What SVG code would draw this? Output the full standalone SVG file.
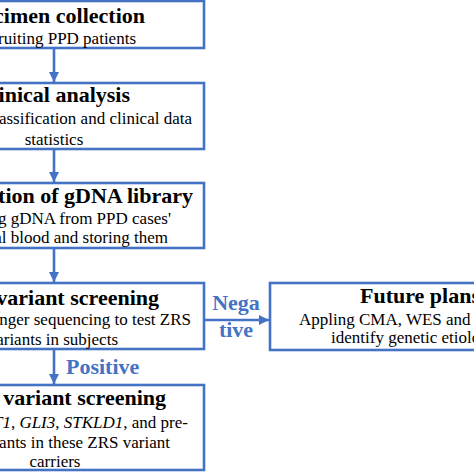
<svg xmlns="http://www.w3.org/2000/svg" width="474" height="474" viewBox="0 0 474 474">
<defs>
<style>
.box{fill:#fff;stroke:#4472C4;stroke-width:2.6}
.t{font-weight:bold;font-size:22px;fill:#000}
.b{font-size:17px;fill:#000}
.lbl{font-weight:bold;font-size:22px;fill:#4472C4}
.c{stroke:#4472C4;stroke-width:2.6;fill:none}
</style>
<marker id="ah" viewBox="0 0 10 10" refX="10" refY="5" markerWidth="4" markerHeight="4" markerUnits="strokeWidth" orient="auto">
<path d="M0,0 L10,5 L0,10 z" fill="#4472C4"/>
</marker>
</defs>
<rect width="474" height="474" fill="#fff"/>
<g font-family="Liberation Serif, Tinos, Times New Roman, serif">
<g id="connectors">
<line class="c" x1="54" y1="48" x2="54" y2="82" marker-end="url(#ah)"/>
<line class="c" x1="54" y1="149" x2="54" y2="182" marker-end="url(#ah)"/>
<line class="c" x1="54" y1="248" x2="54" y2="282" marker-end="url(#ah)"/>
<line class="c" x1="54" y1="349" x2="54" y2="384" marker-end="url(#ah)"/>
<line class="c" x1="204" y1="320" x2="269" y2="320" marker-end="url(#ah)"/>
<text class="lbl" x="66" y="374">Positive</text>
<text class="lbl" x="236" y="310" text-anchor="middle">Nega</text>
<text class="lbl" x="236" y="337" text-anchor="middle">tive</text>
</g>
<g id="n1">
<rect class="box" x="-100" y="1" width="304" height="47"/>
<text class="t" x="145" y="23" text-anchor="end">Specimen collection</text>
<text class="b" x="136" y="44" text-anchor="end">Recruiting PPD patients</text>
</g>
<g id="n2">
<rect class="box" x="-100" y="83" width="304" height="66"/>
<text class="t" x="130" y="102" text-anchor="end">Clinical analysis</text>
<text class="b" x="192" y="124" text-anchor="end">Classification and clinical data</text>
<text class="b" x="54" y="145" text-anchor="middle">statistics</text>
</g>
<g id="n3">
<rect class="box" x="-100" y="183" width="304" height="65"/>
<text class="t" x="193" y="203" text-anchor="end">Construction of gDNA library</text>
<text class="b" x="171" y="224" text-anchor="end">Extracting gDNA from PPD cases'</text>
<text class="b" x="168" y="243" text-anchor="end">peripheral blood and storing them</text>
</g>
<g id="n4">
<rect class="box" x="-100" y="283" width="304" height="66"/>
<text class="t" x="159" y="305" text-anchor="end">ZRS variant screening</text>
<text class="b" x="191" y="325" text-anchor="end">Sanger sequencing to test ZRS</text>
<text class="b" x="118" y="345" text-anchor="end">variants in subjects</text>
</g>
<g id="n5">
<rect class="box" x="-100" y="385" width="304" height="85"/>
<text class="t" x="166" y="405" text-anchor="end">variant screening</text>
<text class="b" x="188" y="428" text-anchor="end"><tspan font-style="italic">T1</tspan>, <tspan font-style="italic">GLI3</tspan>, <tspan font-style="italic">STKLD1</tspan>, and pre-</text>
<text class="b" x="170" y="448" text-anchor="end">variants in these ZRS variant</text>
<text class="b" x="55" y="467" text-anchor="middle">carriers</text>
</g>
<g id="n6">
<rect class="box" x="270" y="283" width="260" height="67"/>
<text class="t" x="360" y="303">Future plans</text>
<text class="b" x="299" y="325">Appling CMA, WES and</text>
<text class="b" x="331" y="343">identify genetic etiology</text>
</g>
</g>
</svg>
